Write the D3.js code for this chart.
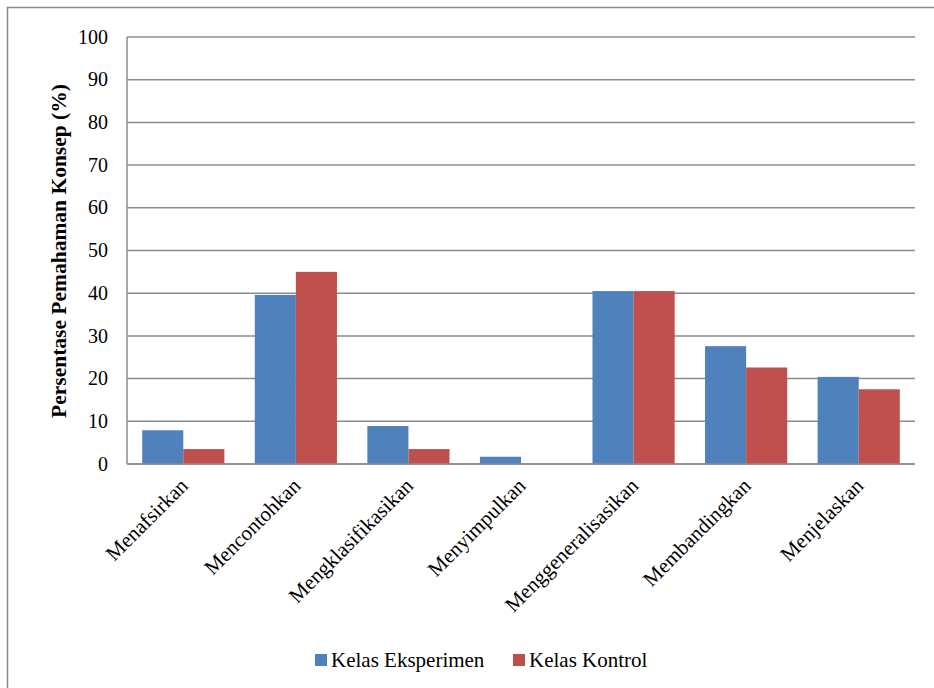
<!DOCTYPE html>
<html>
<head>
<meta charset="utf-8">
<script src="https://cdn.jsdelivr.net/npm/d3@7"></script>
<style>
  body { margin: 0; background: #fff; }
  svg { display: block; }
</style>
</head>
<body>
<script>
// data
var categories = ["Menafsirkan", "Mencontohkan", "Mengklasifikasikan", "Menyimpulkan",
                  "Menggeneralisasikan", "Membandingkan", "Menjelaskan"];
var seriesNames = ["Kelas Eksperimen", "Kelas Kontrol"];
var eksperimen = [7.9, 39.6, 8.9, 1.7, 40.5, 27.6, 20.4];
var kontrol = [3.5, 45.0, 3.5, 0, 40.5, 22.6, 17.5];
var yTicks = [0, 10, 20, 30, 40, 50, 60, 70, 80, 90, 100];
var colors = ["#4f81bd", "#c0504d"];

var width = 934, height = 688;
var plot = {left: 127, right: 915, top: 37, bottom: 464};
var serif = "'Liberation Serif', 'Times New Roman', serif";

var svg = d3.select("body").append("svg")
    .attr("width", width)
    .attr("height", height)
    .attr("font-family", serif);

// outer frame
svg.append("rect")
    .attr("x", 7.5).attr("y", 7.5)
    .attr("width", 940).attr("height", 700)
    .attr("fill", "none")
    .attr("stroke", "#868686")
    .attr("stroke-width", 1.5);

var x0 = d3.scaleBand()
    .domain(categories)
    .range([plot.left, plot.right])
    .paddingInner(0.27)
    .paddingOuter(0.135);

var x1 = d3.scaleBand()
    .domain(seriesNames)
    .range([0, x0.bandwidth()]);

var y = d3.scaleLinear()
    .domain([0, 100])
    .range([plot.bottom, plot.top]);

// gridlines
svg.append("g").selectAll("line")
    .data(yTicks)
    .enter()
    .append("line")
    .attr("x1", plot.left).attr("x2", plot.right)
    .attr("y1", function(d) { return y(d); })
    .attr("y2", function(d) { return y(d); })
    .attr("stroke", "#8c8c8c")
    .attr("stroke-width", 1.5);

// y axis line
svg.append("line")
    .attr("x1", plot.left).attr("x2", plot.left)
    .attr("y1", plot.top).attr("y2", plot.bottom)
    .attr("stroke", "#8c8c8c")
    .attr("stroke-width", 1.5);

// y tick labels
svg.append("g").selectAll("text")
    .data(yTicks)
    .enter()
    .append("text")
    .attr("x", plot.left - 19)
    .attr("y", function(d) { return y(d); })
    .attr("dy", "0.33em")
    .attr("text-anchor", "end")
    .attr("font-size", 20)
    .text(function(d) { return d; });

// bars
var rows = categories.map(function(c, i) {
    return {cat: c, values: [eksperimen[i], kontrol[i]]};
});

var groups = svg.append("g").selectAll("g")
    .data(rows)
    .enter()
    .append("g")
    .attr("transform", function(d) { return "translate(" + x0(d.cat) + ",0)"; });

groups.selectAll("rect")
    .data(function(d) {
        return d.values.map(function(v, j) { return {name: seriesNames[j], value: v, j: j}; });
    })
    .enter()
    .filter(function(d) { return d.value > 0; })
    .append("rect")
    .attr("x", function(d) { return x1(d.name); })
    .attr("y", function(d) { return y(d.value); })
    .attr("width", x1.bandwidth())
    .attr("height", function(d) { return y(0) - y(d.value); })
    .attr("fill", function(d) { return colors[d.j]; });

// bottom axis line over the bars
svg.append("line")
    .attr("x1", plot.left).attr("x2", plot.right)
    .attr("y1", y(0)).attr("y2", y(0))
    .attr("stroke", "#8c8c8c")
    .attr("stroke-width", 1.5);

// category labels, rotated
svg.append("g").selectAll("text")
    .data(categories)
    .enter()
    .append("text")
    .attr("transform", function(d) {
        var cx = x0(d) + x0.bandwidth() / 2 + 6;
        return "translate(" + cx + "," + (plot.bottom + 23) + ") rotate(-45)";
    })
    .attr("text-anchor", "end")
    .attr("font-size", 21)
    .text(function(d) { return d; });

// y axis title
svg.append("text")
    .attr("transform", "translate(66,251) rotate(-90)")
    .attr("text-anchor", "middle")
    .attr("font-size", 21.5)
    .attr("font-weight", "bold")
    .text("Persentase Pemahaman Konsep (%)");

// legend
var legendX = [315, 513];
var legend = svg.append("g").selectAll("g")
    .data(seriesNames)
    .enter()
    .append("g")
    .attr("transform", function(d, i) { return "translate(" + legendX[i] + ",654)"; });

legend.append("rect")
    .attr("width", 12).attr("height", 12)
    .attr("fill", function(d, i) { return colors[i]; });

legend.append("text")
    .attr("x", 16)
    .attr("y", 6)
    .attr("dy", "0.33em")
    .attr("font-size", 21)
    .text(function(d) { return d; });
</script>
</body>
</html>
